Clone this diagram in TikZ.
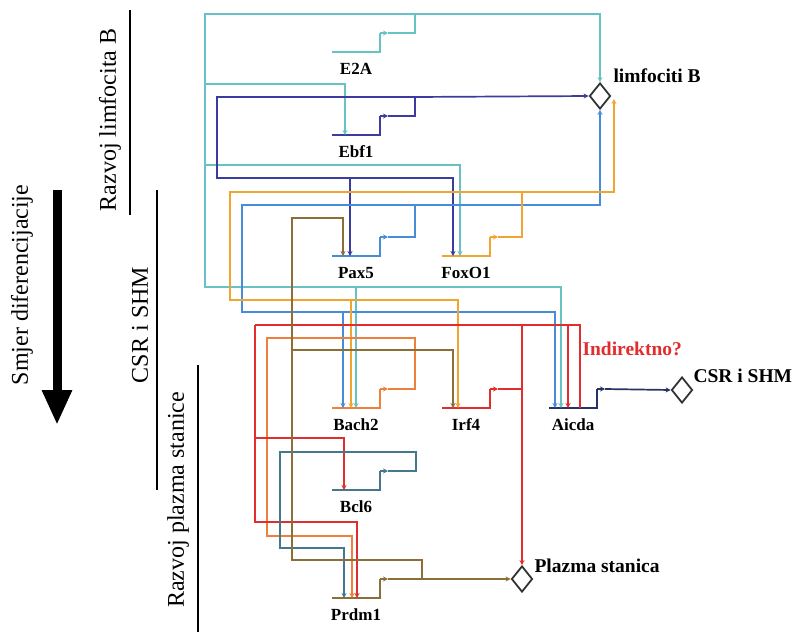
\documentclass[tikz,border=0pt]{standalone}
\usepackage{fontspec}
\setmainfont{Liberation Serif}
\usetikzlibrary{arrows.meta,shapes.geometric,calc}

\definecolor{cteal}{RGB}{102,194,196}
\definecolor{cindigo}{RGB}{60,60,160}
\definecolor{cblue}{RGB}{70,140,215}
\definecolor{corange}{RGB}{240,165,50}
\definecolor{csalmon}{RGB}{238,128,60}
\definecolor{cred}{RGB}{225,45,45}
\definecolor{cnavy}{RGB}{40,50,100}
\definecolor{cslate}{RGB}{70,120,140}
\definecolor{cbrown}{RGB}{140,110,55}
\definecolor{cdia}{RGB}{50,50,50}

\tikzset{
    bar/.style={line width=2.8pt},
    lnk/.style={line width=1.7pt},
    genelabel/.style={font=\fontsize{17}{17}\selectfont\bfseries},
    outlabel/.style={font=\fontsize{19.5}{19.5}\selectfont\bfseries, anchor=west},
    sidelabel/.style={font=\fontsize{24}{24}\selectfont, rotate=90},
    outcome/.style={diamond, draw=cdia, line width=1.8pt, inner sep=0pt,
        minimum width=21pt, minimum height=26pt},
    >={Stealth[length=5pt,width=5pt]}
}

\begin{document}
\begin{tikzpicture}[x=1pt,y=-1pt]
    \useasboundingbox (0,0) rectangle (795,632);

    % genes: bar, bent output arrow, name
    \foreach \g/\x/\y/\c/\t in {e2a/332/52/cteal/E2A, ebf1/332/135/cindigo/Ebf1,
        pax5/332/256/cblue/Pax5, foxo1/442/256/corange/FoxO1,
        bach2/332/408/csalmon/Bach2, irf4/442/408/cred/Irf4,
        aicda/549/408/cnavy/Aicda, bcl6/332/490/cslate/Bcl6,
        prdm1/332/598/cbrown/Prdm1}
    {
        \coordinate (\g) at (\x,\y);
        \coordinate (\g-o) at (\x+56,\y-19);
        \draw [bar,\c] (\g) -- ++(48,0) -- ++(0,-19);
        \draw [lnk,\c,->] ($(\g)+(48,-19)$) -- (\g-o);
        \node [genelabel] (\g-l) at (\x+24,\y+17) {\t};
    }

    % outcomes
    \node [outcome] (limfB) at (600,96) {};
    \node [outcome] (csr) at (682,390) {};
    \node [outcome] (plasma) at (522,579) {};

    \node [outlabel] (limfB-l) at (610,76) {limfociti B};
    \node [outlabel] (csr-l) at (690,376) {CSR i SHM};
    \node [outlabel] (plasma-l) at (531,566) {Plazma stanica};
    \node [outlabel,text=cred] (indir) at (579,349) {Indirektno?};

    % E2A
    \draw [lnk,cteal,->] (e2a-o) -| (415,14) -| (limfB.north);
    \draw [lnk,cteal,->] (415,14) -| (205,287) -| ($(aicda)+(12,0)$);
    \draw [lnk,cteal,->] (205,84) -| ($(ebf1)+(13,0)$);
    \draw [lnk,cteal,->] (205,165) -| ($(foxo1)+(18,0)$);
    \draw [lnk,cteal,->] (356,287) -- ($(bach2)+(24,0)$);

    % Ebf1
    \draw [lnk,cindigo,->] (ebf1-o) -| (415,97) -- (limfB.west);
    \draw [lnk,cindigo,->] (415,97) -| (217,178) -| ($(foxo1)+(11,0)$);
    \draw [lnk,cindigo,->] (350,178) -- ($(pax5)+(18,0)$);

    % Pax5
    \draw [lnk,cblue,->] (pax5-o) -| (415,205) -| (limfB.south);
    \draw [lnk,cblue,->] (415,205) -| (242,312) -| ($(aicda)+(6,0)$);
    \draw [lnk,cblue,->] (343,312) -- ($(bach2)+(11,0)$);

    % FoxO1
    \draw [lnk,corange,->] (foxo1-o) -| (522,192) -| ($(limfB.east)+(2.5,3)$);
    \draw [lnk,corange,->] (522,192) -| (230,300) -| ($(irf4)+(16,0)$);
    \draw [lnk,corange,->] (351,300) -- ($(bach2)+(19,0)$);

    % Bach2
    \draw [lnk,csalmon,->] (bach2-o) -| (415,338) -| (267,536) -| ($(prdm1)+(20,0)$);

    % Irf4
    \draw [lnk,cred] (irf4-o) -- (522,389);
    \draw [lnk,cred,->] (522,325) -- (plasma.north);
    \draw [lnk,cred] (255,325) -- (580,325) -- ($(aicda)+(31,0)$);
    \draw [lnk,cred,->] (568,325) -- ($(aicda)+(19,0)$);
    \draw [lnk,cred,->] (255,325) |- (357,522) -- ($(prdm1)+(25,0)$);
    \draw [lnk,cred,->] (255,438) -| ($(bcl6)+(12,0)$);

    % Aicda
    \draw [lnk,cnavy,->] (aicda-o) -- (csr.west);

    % Bcl6
    \draw [lnk,cslate,->] (bcl6-o) -| (416,452) -| (280,548) -| ($(prdm1)+(12,0)$);

    % Prdm1
    \draw [lnk,cbrown,->] (prdm1-o) -- (plasma.west);
    \draw [lnk,cbrown,->] (422,579) -- (422,560) -| (292,218) -| ($(pax5)+(11,0)$);
    \draw [lnk,cbrown,->] (292,350) -| ($(irf4)+(11,0)$);

    % stages
    \draw [line width=2pt] (130,10) -- (130,215);
    \draw [line width=2pt] (157,190) -- (157,490);
    \draw [line width=2pt] (198,365) -- (198,632);
    \node [sidelabel] (stB) at (110,120) {Razvoj limfocita B};
    \node [sidelabel] (stCSR) at (140,325) {CSR i SHM};
    \node [sidelabel] (stPC) at (178,500) {Razvoj plazma stanice};

    % direction of differentiation
    \coordinate (dirs) at (57,190);
    \coordinate (dire) at (57,425);
    \draw [line width=9pt,-{Triangle[length=35pt,width=28pt]}] (dirs) -- (dire);
    \node [sidelabel] (dirl) at (22,285) {Smjer diferencijacije};

\end{tikzpicture}
\end{document}
